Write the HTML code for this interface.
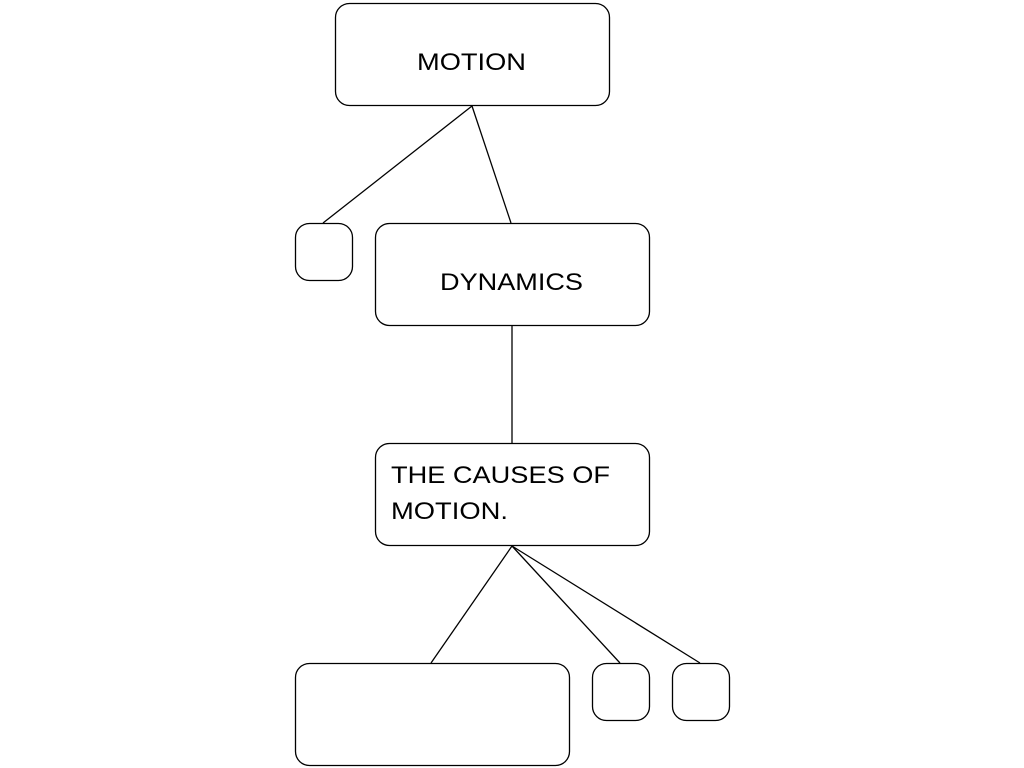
<!DOCTYPE html>
<html><head><style>
body{margin:0;width:1024px;height:768px;background:#fff;overflow:hidden}
</style></head><body>
<svg width="1024" height="768" xmlns="http://www.w3.org/2000/svg" style="position:absolute;left:0;top:0">
<g fill="none" stroke="#000" stroke-width="1.3">
<line x1="472" y1="106" x2="323" y2="223"/>
<line x1="472" y1="106" x2="511" y2="223"/>
<line x1="512" y1="326" x2="512" y2="443"/>
<line x1="512" y1="546" x2="431" y2="663"/>
<line x1="512" y1="546" x2="620" y2="663"/>
<line x1="512" y1="546" x2="700" y2="663"/>
<rect x="335.5" y="3.5" width="274" height="102" rx="14" fill="#fff"/>
<rect x="295.5" y="223.5" width="57" height="57" rx="14" fill="#fff"/>
<rect x="375.5" y="223.5" width="274" height="102" rx="14" fill="#fff"/>
<rect x="375.5" y="443.5" width="274" height="102" rx="14" fill="#fff"/>
<rect x="295.5" y="663.5" width="274" height="102" rx="14" fill="#fff"/>
<rect x="592.5" y="663.5" width="57" height="57" rx="14" fill="#fff"/>
<rect x="672.5" y="663.5" width="57" height="57" rx="14" fill="#fff"/>
</g>
<g font-family="Liberation Sans, sans-serif" font-size="24" fill="#000">
<text x="417" y="70" textLength="109" lengthAdjust="spacingAndGlyphs">MOTION</text>
<text x="440" y="290" textLength="143" lengthAdjust="spacingAndGlyphs">DYNAMICS</text>
<text x="391" y="483" textLength="219" lengthAdjust="spacingAndGlyphs">THE CAUSES OF</text>
<text x="391" y="519" textLength="117" lengthAdjust="spacingAndGlyphs">MOTION.</text>
</g>
</svg>
</body></html>
